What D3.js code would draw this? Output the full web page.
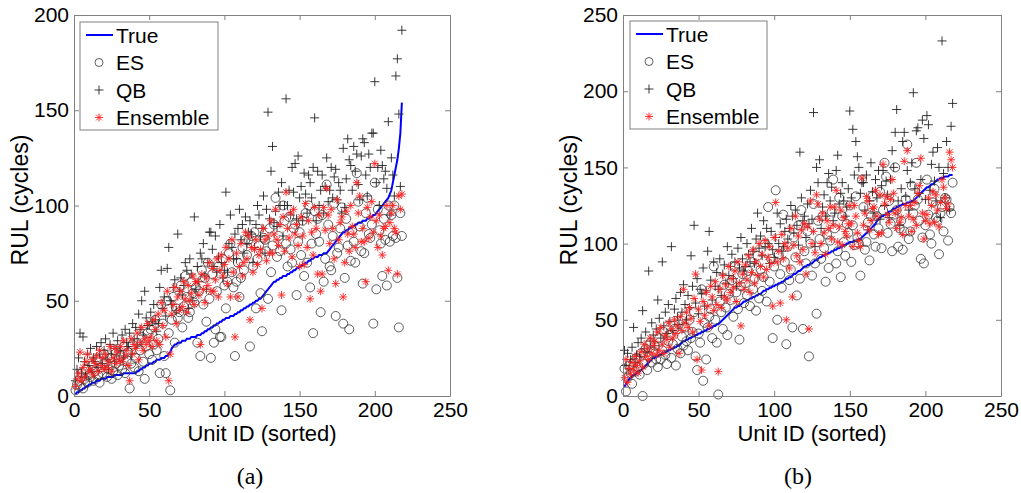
<!DOCTYPE html>
<html>
<head>
<meta charset="utf-8">
<script src="https://cdn.jsdelivr.net/npm/d3@7"></script>
<style>
  body { margin: 0; background: #fff; }
  text { font-family: "Liberation Sans", Arial, sans-serif; }
</style>
</head>
<body>
<div id="chart"></div>
<script>
// ---- panel (a) : values per unit, units 1..218 ----
const trueA = [1,2,2,3,3,4,4,5,5,6, 6,7,7,7,8,8,8,9,9,9, 9,10,10,10,10,10,11,11,11,11,
  11,11,12,12,12,12,12,12,12,12, 12,13,13,14,14,15,15,16,16,17, 17,17,18,18,19,19,19,20,20,20,
  21,21,22,23,25,26,27,27,28,28, 28,29,29,29,30,30,30,31,31,31, 31,32,32,32,33,33,34,34,35,35,
  36,36,37,37,38,38,39,39,40,40, 41,41,41,42,42,42,43,43,44,44, 45,45,46,46,47,47,48,48,49,49,
  50,50,51,51,52,53,54,55,56,57, 58,59,60,60,61,61,62,62,63,63, 63,64,64,65,65,66,66,67,67,68,
  68,69,69,70,70,71,71,72,72,73, 73,73,74,74,74,75,75,75,76,77, 78,79,80,81,82,83,84,85,86,86,
  87,87,88,88,89,89,90,90,91,91, 91,92,92,92,93,93,94,94,95,95, 96,97,98,99,100,101,102,103,104,106,
  108,112,116,120,124,130,138,154];
const esA = [3,6,8,5,12,4,9,14,7,11, 10,16,8,13,19,11,7,15,12,22, 18,10,14,20,9,13,24,17,11,16,
  21,14,26,12,19,23,4,17,27,15, 20,28,13,24,31,18,9,26,33,22, 35,19,27,40,24,30,12,48,38,21,
  12,50,33,3,40,52,28,46,41,44, 58,36,47,63,52,41,44,60,54,49, 57,28,55,21,66,48,62,39,70,51,
  20,64,28,35,55,68,31,31,72,58, 46,60,75,80,65,57,21,60,70,52, 62,78,66,82,74,82,26,84,68,86,
  46,72,79,54,34,83,82,76,51,88, 65,79,90,104,73,84,76,45,100,92, 80,68,94,77,70,88,90,53,81,86,
  74,92,63,96,70,100,57,80,33,97, 85,93,81,44,95,60,72,111,90,68, 66,84,101,42,75,78,88,99,38,62,
  93,79,35,71,87,81,70,117,102,89, 76,59,75,96,104,85,83,90,38,112, 56,98,87,80,63,93,82,58,100,81,
  95,84,100,83,62,36,96,84];
const qbA = [8,14,20,33,12,31,18,10,22,16, 25,13,20,18,26,15,22,28,17,24, 30,19,14,27,22,33,18,25,29,21,
  24,32,20,35,28,26,33,22,38,30, 36,27,43,35,50,32,55,41,37,37, 44,39,48,40,34,38,57,66,46,52,
  42,67,78,50,48,57,61,45,85,55, 62,53,58,70,66,46,72,64,50,94, 56,68,60,75,72,80,63,56,70,86,
  86,77,68,84,65,73,90,70,62,66, 107,65,80,95,78,72,85,72,88,98, 82,90,75,94,80,86,92,85,70,78,
  90,100,95,84,88,105,75,98,149,93, 118,131,91,97,89,107,100,112,84,100, 156,100,108,95,120,107,122,93,126,104,
  110,92,117,106,96,116,112,104,120,146, 92,118,100,108,116,96,110,125,102,108, 120,104,115,119,103,112,108,96,130,99,
  114,135,124,121,108,131,118,127,111,103, 126,135,133,116,105,127,120,138,138,165, 112,120,100,129,121,114,118,109,144,95,
  125,116,105,168,177,148,110,192];
const ensA = [5,9,12,23,8,15,10,18,22,13, 14,19,11,17,21,13,24,16,20,14, 22,15,18,26,13,20,25,17,23,19,
  26,18,29,21,24,16,8,30,22,27, 25,33,19,28,36,24,30,27,38,29, 31,26,40,35,29,43,27,49,37,45,
  31,55,8,22,43,48,57,38,52,45, 55,47,60,51,44,58,50,54,63,48, 60,60,53,27,64,56,49,62,58,70,
  55,67,55,61,72,52,66,74,63,69, 78,59,72,52,82,65,31,75,52,68, 80,63,70,86,72,84,40,78,65,77,
  82,69,74,77,46,88,82,71,84,75, 92,75,85,98,82,79,90,53,94,76, 107,88,83,96,73,98,85,90,79,68,
  94,84,69,101,78,92,51,86,74,99, 88,64,95,55,64,99,87,109,95,80, 98,88,72,59,103,82,91,94,52,70,
  97,85,76,100,89,85,78,112,96,105, 81,88,81,60,99,83,94,102,86,122, 92,78,95,84,74,88,89,100,66,91,
  96,100,88,86,64,105,98,106];

// ---- panel (b) ----
const trueB = [6,8,10,11,12,13,14,14,15,16, 16,17,18,19,20,21,22,23,24,25, 25,26,26,27,27,28,28,29,29,30,
  30,31,31,32,32,33,33,34,35,36, 36,37,37,38,38,39,39,40,40,41, 41,42,42,43,43,44,44,45,45,46,
  46,47,47,48,49,50,51,52,53,54, 55,56,57,58,58,59,59,60,61,62, 62,63,63,64,64,65,65,66,66,67,
  67,68,69,69,70,70,71,71,72,72, 73,73,74,74,75,75,76,77,77,78, 78,79,80,80,81,82,82,83,84,85,
  85,86,86,87,87,88,89,89,90,91, 91,92,92,93,93,94,94,95,95,96, 96,97,97,98,98,99,99,100,100,101,
  101,101,102,102,102,103,103,104,105,106, 107,108,109,110,111,112,113,115,116,117, 118,118,119,119,120,121,121,122,123,123,
  124,124,125,125,126,126,126,127,127,127, 128,128,129,130,131,132,133,134,135,136, 137,137,138,139,139,140,141,142,142,143,
  143,143,144,144,144,145,145,145];
const esB = [18,3,12,20,15,8,22,16,25,19, 14,28,0,21,31,17,26,35,22,29, 33,24,19,38,24,30,42,27,21,36,
  40,25,34,44,20,31,47,28,39,33, 45,36,30,50,38,42,55,26,17,41, 35,70,10,48,24,45,52,57,38,85,
  50,35,1,62,55,44,73,58,40,67, 63,76,52,85,68,57,37,72,80,61, 74,66,82,59,88,70,77,56,92,64,
  83,69,78,100,62,124,75,90,38,85, 135,50,93,80,71,119,88,34,98,76, 83,45,104,91,66,112,77,122,44,95,
  87,108,26,100,79,126,87,54,115,103, 90,118,97,75,106,84,102,121,142,110, 87,95,130,78,118,101,92,113,107,125,
  88,112,99,131,104,100,79,142,124,96, 101,114,89,118,131,106,98,118,110,134, 97,122,153,144,107,128,113,95,119,150,
  122,98,110,115,96,108,129,165,103,108, 138,120,125,153,129,115,90,104,87,112, 142,119,106,100,127,136,117,115,93,120,
  124,108,130,129,102,124,120,140];
const qbB = [30,20,28,18,24,32,45,22,27,35, 26,38,56,31,42,29,82,36,48,40, 33,44,63,51,38,88,46,55,41,60,
  49,98,43,57,64,52,47,68,55,73, 60,50,66,58,92,72,112,61,77,54, 70,67,84,59,69,95,108,76,63,88,
  72,81,70,90,66,80,86,74,98,79, 85,93,77,88,72,97,84,104,90,82, 85,100,93,88,110,95,87,103,120,97,
  105,92,115,98,110,100,87,108,96,91, 104,120,100,113,95,98,108,116,103,110, 125,118,107,122,112,99,160,130,115,118,
  104,126,113,135,116,186,98,150,140,155, 110,124,132,118,140,146,128,137,115,120, 148,158,126,133,140,128,118,124,136,187,
  130,175,145,167,157,150,133,140,140,122, 145,109,128,153,134,120,142,130,148,116, 138,148,125,141,132,117,142,161,150,173,
  188,128,112,136,167,173,131,148,122,140, 153,199,136,174,176,133,142,181,169,129, 184,178,135,152,160,141,128,163,150,117,
  233,146,130,167,150,122,177,192];
const ensB = [12,24,9,18,14,22,17,26,20,15, 23,29,19,34,26,31,24,38,28,33, 36,27,42,30,45,34,28,40,37,48,
  32,44,38,50,41,46,28,52,43,70, 48,55,45,58,51,42,64,80,24,57, 49,17,62,53,68,59,46,72,65,56,
  75,60,16,70,58,79,65,73,63,85, 68,77,71,82,62,88,74,46,80,70, 86,76,92,68,81,96,74,88,79,100,
  85,93,78,102,83,91,98,87,59,104, 127,88,95,61,106,90,100,50,97,84, 110,65,99,118,92,105,88,109,96,113,
  80,111,44,128,100,108,94,132,126,116, 100,120,107,93,115,110,124,103,112,124, 135,101,111,122,99,117,108,105,113,125,
  113,98,125,118,107,102,98,143,112,120, 131,128,109,115,123,124,135,118,106,132, 107,152,126,131,119,114,129,142,133,120,
  110,122,114,117,106,154,125,161,118,125, 108,116,127,112,133,138,156,120,103,115, 119,130,113,125,134,114,132,122,111,127,
  142,137,130,123,126,160,155,150];

const xTicks = [0, 50, 100, 150, 200, 250];
const legendLabels = ["True", "ES", "QB", "Ensemble"];

const width = 1021, height = 493;
const svg = d3.select("#chart").append("svg")
  .attr("width", width)
  .attr("height", height);
svg.append("rect").attr("width", width).attr("height", height).attr("fill", "#fff");

const axisColor = "#808080";
const plusPath = "M-4.5,0H4.5M0,-4.5V4.5";
const starPath = "M-4,0H4M0,-4V4M-2.9,-2.9L2.9,2.9M-2.9,2.9L2.9,-2.9";

function drawPanel(p) {
  const g = svg.append("g");
  const x = d3.scaleLinear().domain([0, 250]).range([p.left, p.right]);
  const y = d3.scaleLinear().domain([0, p.ymax]).range([396, 15]);
  const yTicks = d3.range(0, p.ymax + 1, 50);

  // true curve
  g.append("path")
    .datum(p.truth)
    .attr("fill", "none")
    .attr("stroke", "#0000ff")
    .attr("stroke-width", 2)
    .attr("d", d3.line().x((d, i) => x(i + 1)).y(d => y(d)));

  // ES circles
  g.append("g").selectAll("circle")
    .data(p.es)
    .join("circle")
      .attr("cx", (d, i) => x(i + 1))
      .attr("cy", d => y(d))
      .attr("r", 4.5)
      .attr("fill", "none")
      .attr("stroke", "#333")
      .attr("stroke-width", 0.8);

  // QB plus signs
  g.append("g").selectAll("path")
    .data(p.qb)
    .join("path")
      .attr("transform", (d, i) => `translate(${x(i + 1)},${y(d)})`)
      .attr("d", plusPath)
      .attr("stroke", "#222")
      .attr("stroke-width", 0.9);

  // ensemble asterisks
  g.append("g").selectAll("path")
    .data(p.ens)
    .join("path")
      .attr("transform", (d, i) => `translate(${x(i + 1)},${y(d)})`)
      .attr("d", starPath)
      .attr("stroke", "#ff2020")
      .attr("stroke-width", 0.9);

  // axes, ticks inside on all four sides
  const styleAxis = sel => {
    sel.select(".domain").attr("stroke", axisColor);
    sel.selectAll(".tick line").attr("stroke", axisColor);
    sel.selectAll(".tick text").attr("fill", "#000")
      .style("font-family", '"Liberation Sans", Arial, sans-serif')
      .style("font-size", "21px");
  };
  g.append("g").attr("transform", "translate(0,396)")
    .call(d3.axisBottom(x).tickValues(xTicks).tickSizeInner(-5).tickSizeOuter(0).tickPadding(6))
    .call(styleAxis);
  g.append("g").attr("transform", "translate(0,15)")
    .call(d3.axisTop(x).tickValues(xTicks).tickSizeInner(-5).tickSizeOuter(0).tickFormat(""))
    .call(styleAxis);
  g.append("g").attr("transform", `translate(${p.left},0)`)
    .call(d3.axisLeft(y).tickValues(yTicks).tickSizeInner(-5).tickSizeOuter(0).tickPadding(5))
    .call(styleAxis);
  g.append("g").attr("transform", `translate(${p.right},0)`)
    .call(d3.axisRight(y).tickValues(yTicks).tickSizeInner(-5).tickSizeOuter(0).tickFormat(""))
    .call(styleAxis);

  // axis titles
  g.append("text")
    .attr("x", (p.left + p.right) / 2).attr("y", 441)
    .attr("text-anchor", "middle")
    .style("font-size", "22px")
    .text("Unit ID (sorted)");
  g.append("text")
    .attr("transform", `translate(${p.left - 46},200) rotate(-90)`)
    .attr("text-anchor", "middle")
    .style("font-size", "23px")
    .text("RUL (cycles)");
  g.append("text")
    .attr("x", p.captionX).attr("y", 484)
    .attr("text-anchor", "middle")
    .style("font-family", '"Liberation Serif", "Times New Roman", serif')
    .style("font-size", "24px")
    .text(p.caption);

  // legend
  const lg = g.append("g").attr("transform", `translate(${p.left + p.legendDx},${p.legendTop})`);
  lg.append("rect")
    .attr("width", p.legendW).attr("height", 108)
    .attr("fill", "#fff").attr("stroke", axisColor);
  legendLabels.forEach((lab, i) => {
    const cy = 13 + i * 27.5;
    if (i === 0) {
      lg.append("line").attr("x1", 6).attr("x2", 33).attr("y1", cy).attr("y2", cy)
        .attr("stroke", "#0000ff").attr("stroke-width", 2);
    } else if (i === 1) {
      lg.append("circle").attr("cx", 19).attr("cy", cy).attr("r", 4)
        .attr("fill", "none").attr("stroke", "#333").attr("stroke-width", 0.8);
    } else {
      lg.append("path").attr("transform", `translate(19,${cy})`)
        .attr("d", i === 2 ? plusPath : starPath)
        .attr("stroke", i === 2 ? "#222" : "#ff2020").attr("stroke-width", 0.9);
    }
    lg.append("text").attr("x", 36).attr("y", cy + 7.5)
      .style("font-size", "21px")
      .text(lab);
  });
}

drawPanel({left: 74, right: 450, ymax: 200, truth: trueA, es: esA, qb: qbA, ens: ensA,
  caption: "(a)", captionX: 250, legendDx: 6, legendTop: 22, legendW: 138});
drawPanel({left: 623, right: 1001, ymax: 250, truth: trueB, es: esB, qb: qbB, ens: ensB,
  caption: "(b)", captionX: 798, legendDx: 7, legendTop: 21, legendW: 137});
</script>
</body>
</html>
